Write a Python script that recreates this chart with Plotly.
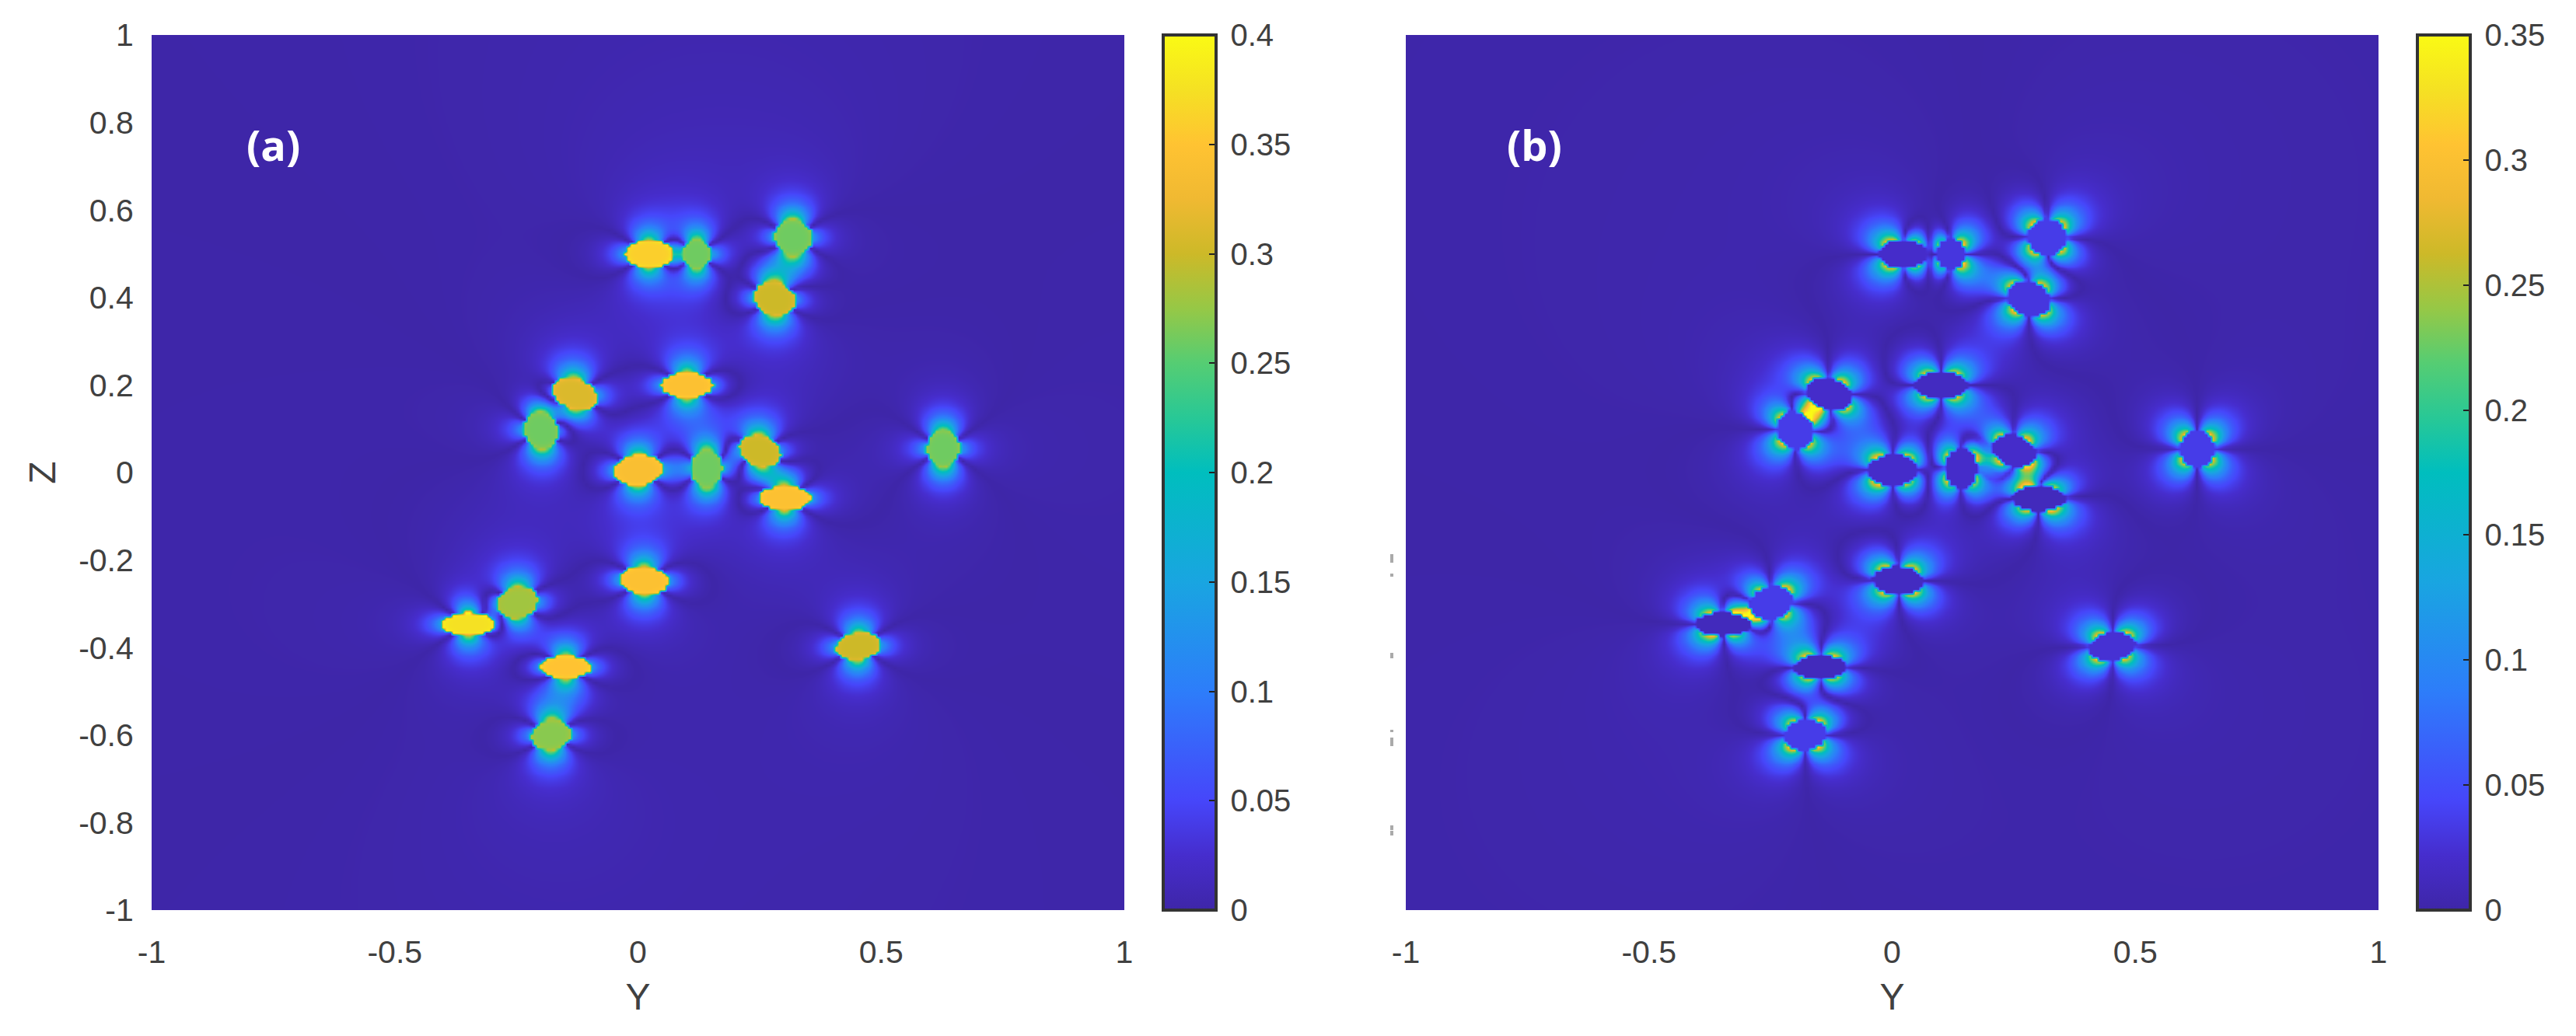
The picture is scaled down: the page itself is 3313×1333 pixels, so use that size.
import numpy as np
import plotly.graph_objects as go

# NOTE: the reference is a dense 2D field. Only the particle tables below are read from
# the picture. The heatmap cells are a modelled reconstruction built from those tables
# (dipole-shaped lobes around each particle), not cell values read one by one.

W, H = 3313, 1333
M_L, M_R, M_T, M_B = 20, 50, 12, 20

# particles
part_y = [0.022, 0.12, 0.318, 0.28, -0.13, 0.10, -0.20, 0.0, 0.141, 0.25, 0.301,
          0.012, -0.349, -0.249, -0.149, -0.179, 0.452, 0.627]
part_z = [0.50, 0.50, 0.538, 0.398, 0.18, 0.20, 0.097, 0.006, 0.01, 0.05, -0.058,
          -0.246, -0.346, -0.297, -0.444, -0.599, -0.397, 0.055]
semi_a = [0.047, 0.029, 0.037, 0.043, 0.046, 0.051, 0.034, 0.048, 0.031, 0.043, 0.051,
          0.049, 0.053, 0.042, 0.05, 0.04, 0.045, 0.033]
semi_b = [0.03, 0.033, 0.039, 0.036, 0.033, 0.028, 0.041, 0.033, 0.043, 0.033, 0.027,
          0.03, 0.025, 0.034, 0.025, 0.033, 0.03, 0.04]
tilt_deg = [0, 0, 15, -25, -25, 0, 20, 5, 0, -25, 0, -5, 0, 20, 0, 15, 10, 0]
inner_a = [0.36, 0.26, 0.26, 0.30, 0.31, 0.345, 0.26, 0.34, 0.26, 0.30, 0.345,
           0.345, 0.375, 0.28, 0.35, 0.27, 0.30, 0.26]
inner_b = [0.02, 0.03, 0.035, 0.03, 0.02, 0.015, 0.035, 0.02, 0.02, 0.02, 0.012,
           0.015, 0.012, 0.035, 0.012, 0.035, 0.025, 0.035]

# bright gaps between neighbouring particles in panel (b)
hot_y = [-0.162, -0.293, 0.195]
hot_z = [0.147, -0.33, 0.03]
hot_v = [0.36, 0.36, 0.13]
hot_r = [0.014, 0.012, 0.03]

rim_a = 0.15    # lobe level at particle rim, panel (a)
rim_b = 0.21    # lobe level at particle rim, panel (b)
size_a = 1.05   # drawn size against the table, panel (a)
size_b = 1.10   # drawn size against the table, panel (b)

# axes
y_ticks = [-1, -0.5, 0, 0.5, 1]
y_labels = ["-1", "-0.5", "0", "0.5", "1"]
z_ticks = [-1, -0.8, -0.6, -0.4, -0.2, 0, 0.2, 0.4, 0.6, 0.8, 1]
z_labels = ["-1", "-0.8", "-0.6", "-0.4", "-0.2", "0", "0.2", "0.4", "0.6", "0.8", "1"]

# colours picked off the reference colorbar
parula_like = [
    [0.0, "rgb(62,38,168)"], [0.0625, "rgb(70,45,205)"], [0.125, "rgb(70,70,250)"],
    [0.25, "rgb(45,125,250)"], [0.375, "rgb(25,165,225)"], [0.5, "rgb(0,190,190)"],
    [0.5625, "rgb(40,200,150)"], [0.625, "rgb(85,205,115)"], [0.6875, "rgb(150,200,70)"],
    [0.75, "rgb(205,185,40)"], [0.8125, "rgb(240,185,50)"], [0.875, "rgb(255,195,50)"],
    [0.9375, "rgb(245,225,35)"], [1.0, "rgb(250,250,20)"],
]

grid = np.linspace(-1, 1, 301)
gy, gz = np.meshgrid(grid, grid)


def px_x(px):
    return (px - M_L) / (W - M_L - M_R)


def px_y(py):
    return 1 - (py - M_T) / (H - M_T - M_B)


def build_field(panel):
    total = np.zeros_like(gy)
    inside = np.full(gy.shape, np.nan)
    size = size_a if panel == "a" else size_b
    for i in range(len(part_y)):
        dy = gy - part_y[i]
        dz = gz - part_z[i]
        t = np.radians(tilt_deg[i])
        u = dy * np.cos(t) + dz * np.sin(t)
        v = -dy * np.sin(t) + dz * np.cos(t)
        rho = np.sqrt((u / (size * semi_a[i])) ** 2 + (v / (size * semi_b[i])) ** 2) + 1e-9
        r = np.sqrt(dy ** 2 + dz ** 2) + 1e-9
        gap = np.clip((rho - 1) * r / rho, 0, None)
        cos_t = dz / r
        sin_t = dy / r
        if panel == "a":
            decay = 0.72 * np.exp(-gap / 0.028) + 0.28 * (1 + gap / 0.05) ** -2.0
            lobe = rim_a * (3 * cos_t ** 2 - 1) * decay
            level = inner_a[i] * (1 + 0.06 * np.clip(rho, 0, 1) ** 8)
        else:
            decay = 0.72 * np.exp(-gap / 0.03) + 0.28 * (1 + gap / 0.05) ** -2.2
            lobe = rim_b * 3 * sin_t * cos_t * decay
            level = np.full(gy.shape, inner_b[i])
        total += lobe
        inside = np.where(rho < 1, level, inside)
    field = np.abs(total)
    if panel == "b":
        for y0, z0, v0, r0 in zip(hot_y, hot_z, hot_v, hot_r):
            field = np.maximum(field, v0 * np.exp(-((gy - y0) ** 2 + (gz - z0) ** 2) / (2 * r0 ** 2)))
    return np.where(np.isnan(inside), field, inside)


def colorbar(x_px):
    return dict(
        x=px_x(x_px), xanchor="left", y=px_y(1171), yanchor="bottom", len=px_y(45) - px_y(1171),
        thickness=68, xpad=0, ypad=0, outlinewidth=4, outlinecolor="#333333",
        tickmode="linear", tick0=0, dtick=0.05, tickprefix="\u2009", ticks="inside", ticklen=11,
        tickwidth=2, tickcolor="#222222",
        tickfont=dict(family="Liberation Sans", size=40, color="#404040"),
    )


fig = go.Figure()
fig.add_trace(go.Heatmap(x=grid, y=grid, z=build_field("a"), zmin=0, zmax=0.4, zsmooth="best",
                         colorscale=parula_like, colorbar=colorbar(1496),
                         xaxis="x", yaxis="y"))
fig.add_trace(go.Heatmap(x=grid, y=grid, z=build_field("b"), zmin=0, zmax=0.35, zsmooth="best",
                         colorscale=parula_like, colorbar=colorbar(3109),
                         xaxis="x2", yaxis="y2"))

tick_font = dict(family="Liberation Sans", size=41, color="#404040")
title_font = dict(family="Liberation Sans", size=48, color="#404040")
x_common = dict(range=[-1, 1], tickmode="array", tickvals=y_ticks, ticktext=y_labels,
                tickfont=tick_font, showgrid=False, zeroline=False, automargin=False,
                ticks="outside", ticklen=18, tickcolor="rgba(0,0,0,0)",
                title=dict(text="Y", font=title_font, standoff=18))
y_dom = [px_y(1171), px_y(45)]

fig.update_layout(
    width=W, height=H, margin=dict(l=M_L, r=M_R, t=M_T, b=M_B), paper_bgcolor="white",
    plot_bgcolor="white", showlegend=False,
    xaxis=dict(domain=[px_x(195), px_x(1446)], anchor="y", **x_common),
    xaxis2=dict(domain=[px_x(1808), px_x(3059)], anchor="y2", **x_common),
    yaxis=dict(domain=y_dom, anchor="x", range=[-1, 1], tickmode="array", tickvals=z_ticks,
               ticktext=z_labels, tickfont=tick_font, showgrid=False, zeroline=False,
               automargin=False, ticks="outside", ticklen=14, tickcolor="rgba(0,0,0,0)",
               title=dict(text="Z", font=title_font, standoff=14)),
    yaxis2=dict(domain=y_dom, anchor="x2", range=[-1, 1], showticklabels=False,
                showgrid=False, zeroline=False, ticks="", automargin=False),
)

label_font = dict(family="Open Sans", size=54, color="white")
fig.add_annotation(x=-0.75, y=0.75, xref="x", yref="y", text="<b>(a)</b>", showarrow=False, font=label_font)
fig.add_annotation(x=-0.735, y=0.75, xref="x2", yref="y2", text="<b>(b)</b>", showarrow=False, font=label_font)

# leftovers of cut-off tick labels beside panel (b)
for top, bottom in [(713, 724), (738, 742), (840, 847), (939, 942), (949, 960), (1062, 1068), (1069, 1075)]:
    fig.add_shape(type="rect", xref="paper", yref="paper", x0=px_x(1788), x1=px_x(1792),
                  y0=px_y(bottom), y1=px_y(top), fillcolor="#aaaaaa", line_width=0)

fig.write_html("out.html", config={"displayModeBar": False},
               post_script="document.body.style.margin='0';")
